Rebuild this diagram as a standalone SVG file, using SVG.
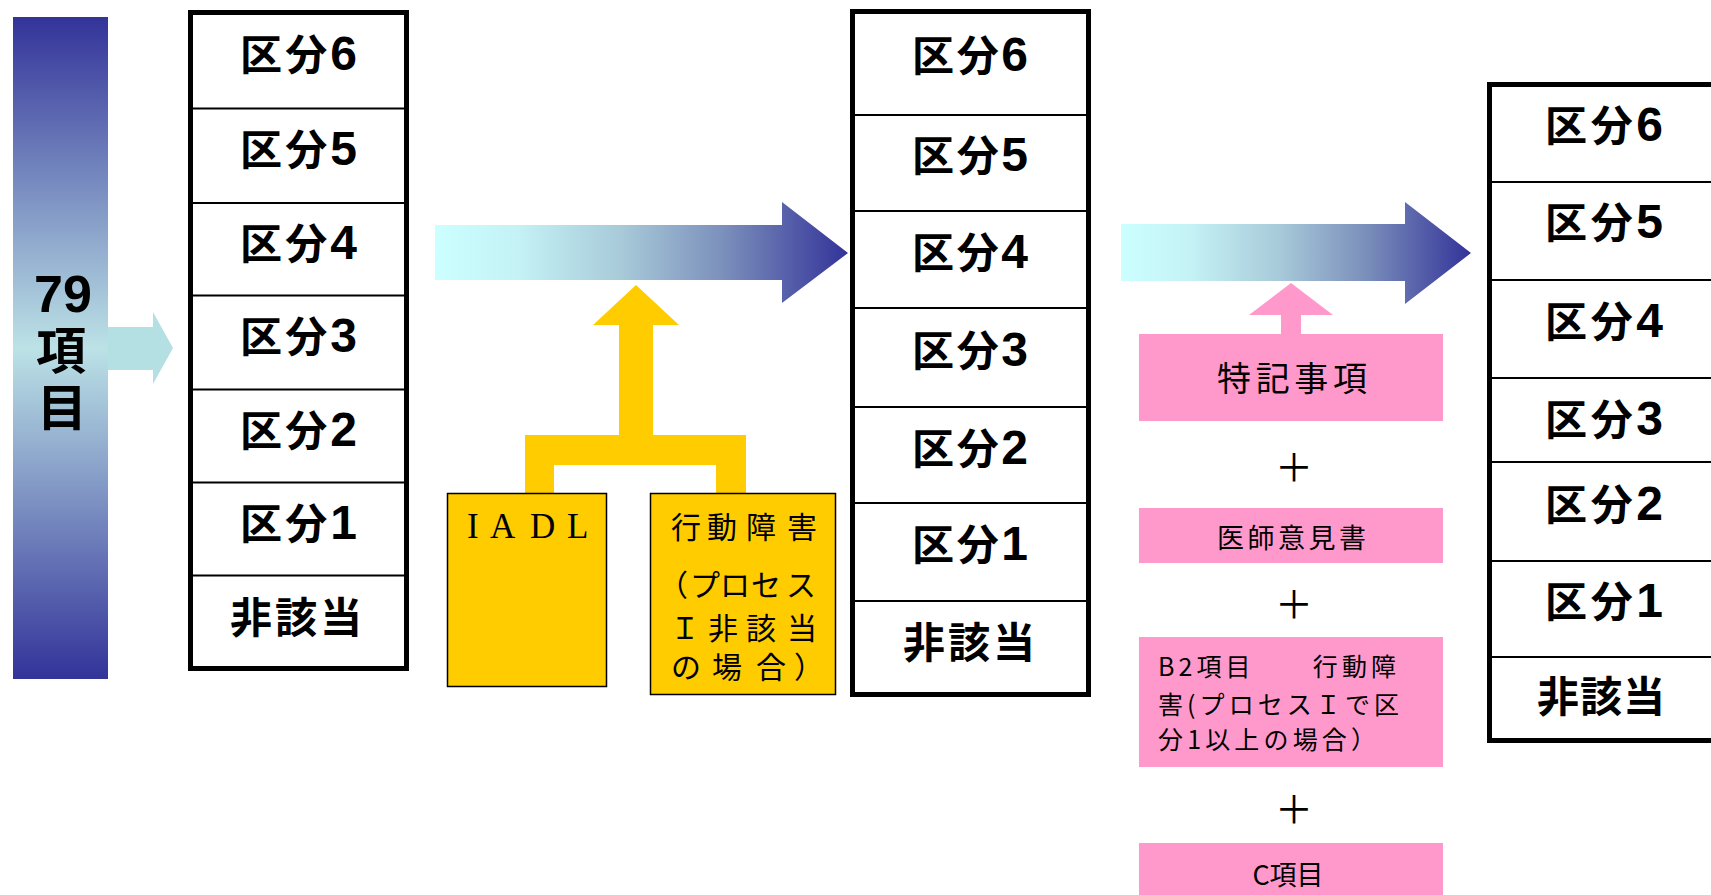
<svg xmlns="http://www.w3.org/2000/svg" width="1711" height="895" viewBox="0 0 1711 895">
<style>
.bg{fill:#ffffff}
.frame{fill:#ffffff;stroke:#000000;stroke-width:5}
.div{stroke:#000000;stroke-width:2}
.lv{font-family:"Noto Sans CJK JP",sans-serif;font-weight:700;font-size:42px;fill:#000000;text-anchor:middle}
.dg{font-family:"Liberation Sans",Arial,sans-serif;font-weight:700;font-size:48px}
.yel{fill:#ffcc00}
.ybox{fill:#ffcc00;stroke:#000000;stroke-width:1.5}
.pink{fill:#ff99cc}
.t{font-family:"Noto Sans CJK JP",sans-serif;fill:#000000;dominant-baseline:central}
.ta{font-family:"Noto Sans CJK JP",sans-serif;fill:#000000}
.plus{font-family:"Noto Sans CJK JP",sans-serif;font-size:38px;fill:#000000;text-anchor:middle;dominant-baseline:central}
</style>
<defs>
<linearGradient id="barGrad" x1="0" y1="0" x2="0" y2="1">
<stop offset="0" stop-color="#333399"/>
<stop offset="0.5" stop-color="#bce2e6"/>
<stop offset="1" stop-color="#333399"/>
</linearGradient>
<linearGradient id="arrGrad" x1="0" y1="0" x2="1" y2="0">
<stop offset="0" stop-color="#ccffff"/>
<stop offset="0.2" stop-color="#c4f2f5"/>
<stop offset="0.45" stop-color="#a8cad9"/>
<stop offset="0.7" stop-color="#7b8fbb"/>
<stop offset="1" stop-color="#333399"/>
</linearGradient>
</defs>
<rect class="bg" x="0" y="0" width="1711" height="895"/>

<g id="items79">
<rect x="13" y="17" width="95" height="662" fill="url(#barGrad)"/>
<text font-weight="700" text-anchor="middle" fill="#000"><tspan x="63" y="312" font-family="Liberation Sans, Arial, sans-serif" font-size="52">79</tspan><tspan x="61" y="369" font-family="Noto Sans CJK JP, sans-serif" font-size="50">項</tspan><tspan x="62" y="426" font-family="Noto Sans CJK JP, sans-serif" font-size="50">目</tspan></text>
</g>

<g id="connectors">
<path d="M108,327 L153,327 L153,312 L173,348 L153,384 L153,370 L108,370 Z" fill="#b4dfe3"/>
<path d="M435,225 L782,225 L782,202 L848,253 L782,303 L782,280 L435,280 Z" fill="url(#arrGrad)"/>
<path d="M1121,224 L1405,224 L1405,202 L1471,253 L1405,304 L1405,281 L1121,281 Z" fill="url(#arrGrad)"/>
<path class="yel" d="M636,285 L679,325 L653,325 L653,435 L746,435 L746,493 L716,493 L716,465 L554,465 L554,493 L525,493 L525,435 L619,435 L619,325 L593,325 Z"/>
<path class="pink" d="M1291,283 L1333,315 L1301,315 L1301,335 L1281,335 L1281,315 L1249,315 Z"/>
</g>

<g id="box1">
<rect class="frame" x="190.5" y="12.5" width="216" height="656"/>
<line class="div" x1="193" y1="108.5" x2="404" y2="108.5"/>
<line class="div" x1="193" y1="203" x2="404" y2="203"/>
<line class="div" x1="193" y1="295.5" x2="404" y2="295.5"/>
<line class="div" x1="193" y1="389.5" x2="404" y2="389.5"/>
<line class="div" x1="193" y1="482.5" x2="404" y2="482.5"/>
<line class="div" x1="193" y1="575.5" x2="404" y2="575.5"/>
<text class="lv" x="298.5" y="70" textLength="117" lengthAdjust="spacing">区分<tspan class="dg">6</tspan></text>
<text class="lv" x="298.5" y="165" textLength="117" lengthAdjust="spacing">区分<tspan class="dg">5</tspan></text>
<text class="lv" x="298.5" y="258.5" textLength="117" lengthAdjust="spacing">区分<tspan class="dg">4</tspan></text>
<text class="lv" x="298.5" y="352" textLength="117" lengthAdjust="spacing">区分<tspan class="dg">3</tspan></text>
<text class="lv" x="298.5" y="446" textLength="117" lengthAdjust="spacing">区分<tspan class="dg">2</tspan></text>
<text class="lv" x="298.5" y="539" textLength="117" lengthAdjust="spacing">区分<tspan class="dg">1</tspan></text>
<text class="lv" x="296" y="633" textLength="132" lengthAdjust="spacing">非該当</text>
</g>

<g id="iadl">
<rect class="ybox" x="447.5" y="493.5" width="159" height="193"/>
<text x="467 490 530 567" y="538" font-family="Liberation Serif, serif" font-size="35" fill="#000">IADL</text>
</g>

<g id="koudou">
<rect class="ybox" x="650.5" y="493.5" width="185" height="201"/>
<text class="ta" font-size="30"><tspan x="671 707 746 787" y="538">行動障害</tspan><tspan x="658 690 720 751 786" y="596">（プロセス</tspan><tspan x="670 708 746 787" y="638.5">Ｉ非該当</tspan><tspan x="671 712 756 794" y="678">の場合）</tspan></text>
</g>

<g id="box2">
<rect class="frame" x="852.5" y="11.5" width="236" height="683"/>
<line class="div" x1="855" y1="115" x2="1086" y2="115"/>
<line class="div" x1="855" y1="211" x2="1086" y2="211"/>
<line class="div" x1="855" y1="308" x2="1086" y2="308"/>
<line class="div" x1="855" y1="407" x2="1086" y2="407"/>
<line class="div" x1="855" y1="503" x2="1086" y2="503"/>
<line class="div" x1="855" y1="601" x2="1086" y2="601"/>
<text class="lv" x="970" y="71" textLength="116" lengthAdjust="spacing">区分<tspan class="dg">6</tspan></text>
<text class="lv" x="970" y="171" textLength="116" lengthAdjust="spacing">区分<tspan class="dg">5</tspan></text>
<text class="lv" x="970" y="268" textLength="116" lengthAdjust="spacing">区分<tspan class="dg">4</tspan></text>
<text class="lv" x="970" y="366" textLength="116" lengthAdjust="spacing">区分<tspan class="dg">3</tspan></text>
<text class="lv" x="970" y="463.5" textLength="116" lengthAdjust="spacing">区分<tspan class="dg">2</tspan></text>
<text class="lv" x="970" y="560" textLength="116" lengthAdjust="spacing">区分<tspan class="dg">1</tspan></text>
<text class="lv" x="969" y="657.5" textLength="132" lengthAdjust="spacing">非該当</text>
</g>

<g id="tokki">
<rect class="pink" x="1139" y="334" width="304" height="87"/>
<text class="t" x="1217" y="376" font-size="34" textLength="150" lengthAdjust="spacing">特記事項</text>
</g>

<g id="plus-signs">
<text class="plus" x="1294" y="464">＋</text>
<text class="plus" x="1294" y="601">＋</text>
<text class="plus" x="1294" y="806">＋</text>
</g>

<g id="ishi">
<rect class="pink" x="1139" y="508" width="304" height="55"/>
<text class="t" x="1217" y="536" font-size="27" textLength="149" lengthAdjust="spacing">医師意見書</text>
</g>

<g id="b2">
<rect class="pink" x="1139" y="637" width="304" height="130"/>
<text class="t" x="1158" y="665" font-size="25" textLength="238" lengthAdjust="spacing">B2項目　　行動障</text>
<text class="t" x="1158" y="703" font-size="25" textLength="241" lengthAdjust="spacing">害(プロセスＩで区</text>
<text class="t" x="1158" y="738" font-size="25" textLength="218" lengthAdjust="spacing">分1以上の場合）</text>
</g>

<g id="citem">
<rect class="pink" x="1139" y="843" width="304" height="60"/>
<text class="t" x="1288" y="873" font-size="27" text-anchor="middle">C項目</text>
</g>

<g id="box3">
<rect class="frame" x="1489.5" y="84.5" width="240" height="656"/>
<line class="div" x1="1492" y1="182" x2="1711" y2="182"/>
<line class="div" x1="1492" y1="280" x2="1711" y2="280"/>
<line class="div" x1="1492" y1="378" x2="1711" y2="378"/>
<line class="div" x1="1492" y1="462" x2="1711" y2="462"/>
<line class="div" x1="1492" y1="561" x2="1711" y2="561"/>
<line class="div" x1="1492" y1="657" x2="1711" y2="657"/>
<text class="lv" x="1604" y="141" textLength="118" lengthAdjust="spacing">区分<tspan class="dg">6</tspan></text>
<text class="lv" x="1604" y="238" textLength="118" lengthAdjust="spacing">区分<tspan class="dg">5</tspan></text>
<text class="lv" x="1604" y="337" textLength="118" lengthAdjust="spacing">区分<tspan class="dg">4</tspan></text>
<text class="lv" x="1604" y="435" textLength="118" lengthAdjust="spacing">区分<tspan class="dg">3</tspan></text>
<text class="lv" x="1604" y="520" textLength="118" lengthAdjust="spacing">区分<tspan class="dg">2</tspan></text>
<text class="lv" x="1604" y="617" textLength="118" lengthAdjust="spacing">区分<tspan class="dg">1</tspan></text>
<text class="lv" x="1601" y="711.5" textLength="128" lengthAdjust="spacing">非該当</text>
</g>
</svg>
